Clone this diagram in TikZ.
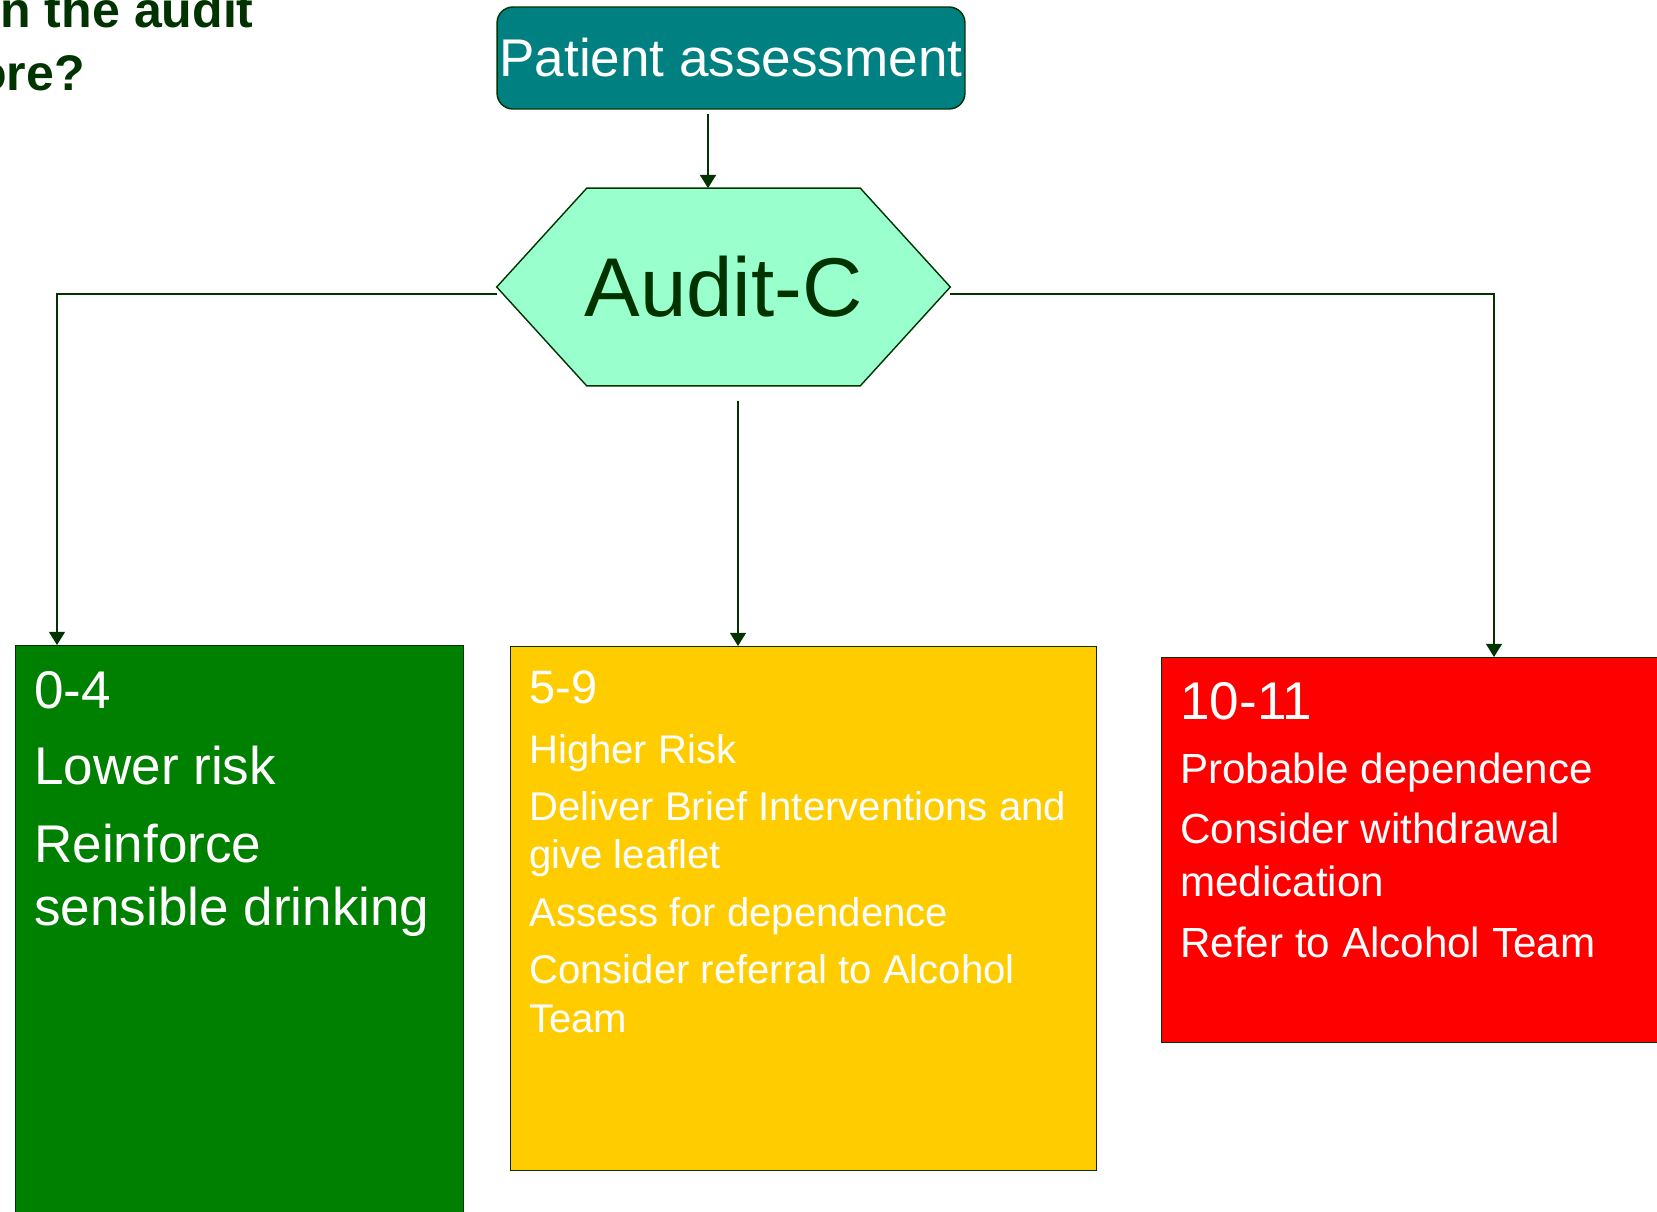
\documentclass[tikz,border=0pt]{standalone}
\usepackage{fontspec}
\setmainfont{Liberation Sans}
\usetikzlibrary{arrows.meta,calc,backgrounds}

\definecolor{dkgreen}{RGB}{0,51,0}
\definecolor{tealbox}{RGB}{0,128,128}
\definecolor{mint}{RGB}{153,255,204}
\definecolor{lowgreen}{RGB}{0,128,0}
\definecolor{amber}{RGB}{255,204,0}
\definecolor{alarmred}{RGB}{255,0,0}

\begin{document}
\begin{tikzpicture}[x=0.02cm, y=-0.02cm,
        box/.style = {draw=dkgreen, line width=0.8pt, rectangle, anchor=north west, inner sep=0},
        ar/.style = {line width=1.1pt, draw=dkgreen, -{Triangle[length=7.5pt, width=9pt]}},
        txt/.style = {anchor=base west, inner sep=0, text=white},
        ttl/.style = {anchor=base east, inner sep=0, text=dkgreen, font=\bfseries\fontsize{28.5}{36}\selectfont},
        big/.style = {txt, font=\fontsize{30.2}{36}\selectfont},
        midhead/.style = {txt, font=\fontsize{26.7}{32}\selectfont},
        mid/.style = {txt, font=\fontsize{22.8}{27}\selectfont},
        high/.style = {txt, font=\fontsize{24}{29}\selectfont}]
        \clip (0,0) rectangle (1657,1211);

        % question, cut at the left edge
        \node[ttl] (q1) at (254,27) {n the audit};
        \node[ttl] (q2) at (85,90) {ore?};

        \node[draw=dkgreen, line width=0.8pt, fill=tealbox, rounded corners=9pt,
              minimum width=9.36cm, minimum height=2.04cm, inner sep=0, text=white,
              font=\fontsize{30.2}{36}\selectfont] (pa) at (731,58) {Patient assessment};

        \node[minimum width=9.06cm, minimum height=3.94cm, inner sep=0, text=dkgreen,
              font=\fontsize{47.5}{57}\selectfont] (audit) at (723.5,287) {Audit-C};
        \begin{pgfonlayer}{background}
            \draw[dkgreen, line width=0.8pt, fill=mint] (audit.west)
                -- ($(audit.north west)+(90,0)$) -- ($(audit.north east)+(-90,0)$)
                -- (audit.east)
                -- ($(audit.south east)+(-90,0)$) -- ($(audit.south west)+(90,0)$) -- cycle;
        \end{pgfonlayer}

        \node[box, fill=lowgreen, minimum width=8.96cm, minimum height=12cm] (low) at (15,645) {};
        \node[box, fill=amber, minimum width=11.72cm, minimum height=10.48cm] (mid) at (510,646) {};
        \node[box, fill=alarmred, minimum width=10.4cm, minimum height=7.7cm] (high) at (1161,657) {};

        \coordinate (top) at ($(pa.south)+(-23,4)$);
        \draw[ar] (top) -- (top |- audit.north);
        \draw[ar] ($(audit.west)+(0,7)$) -| ($(low.north west)+(42,0)$);
        \draw[ar] ($(audit.south)+(14.5,15)$) -- ($(mid.north west)+(228,0)$);
        \draw[ar] ($(audit.east)+(0,7)$) -| ($(high.north west)+(333,0)$);

        % 0-4
        \node[big] (l1) at (34,708) {0-4};
        \node[big] (l2) at (34,784) {Lower risk};
        \node[big] (l3) at (34,862) {Reinforce};
        \node[big] (l4) at (34,925) {sensible drinking};

        % 5-9
        \node[midhead] (m1) at (529,703) {5-9};
        \node[mid] (m2) at (529,763) {Higher Risk};
        \node[mid] (m3) at (529,820) {Deliver Brief Interventions and};
        \node[mid] (m4) at (529,868) {give leaflet};
        \node[mid] (m5) at (529,926) {Assess for dependence};
        \node[mid] (m6) at (529,983) {Consider referral to Alcohol};
        \node[mid] (m7) at (529,1032) {Team};

        % 10-11
        \node[big] (h1) at (1180,719) {10-11};
        \node[high] (h2) at (1180,783) {Probable dependence};
        \node[high] (h3) at (1180,843) {Consider withdrawal};
        \node[high] (h4) at (1180,896) {medication};
        \node[high] (h5) at (1180,957) {Refer to Alcohol Team};
\end{tikzpicture}
\end{document}
